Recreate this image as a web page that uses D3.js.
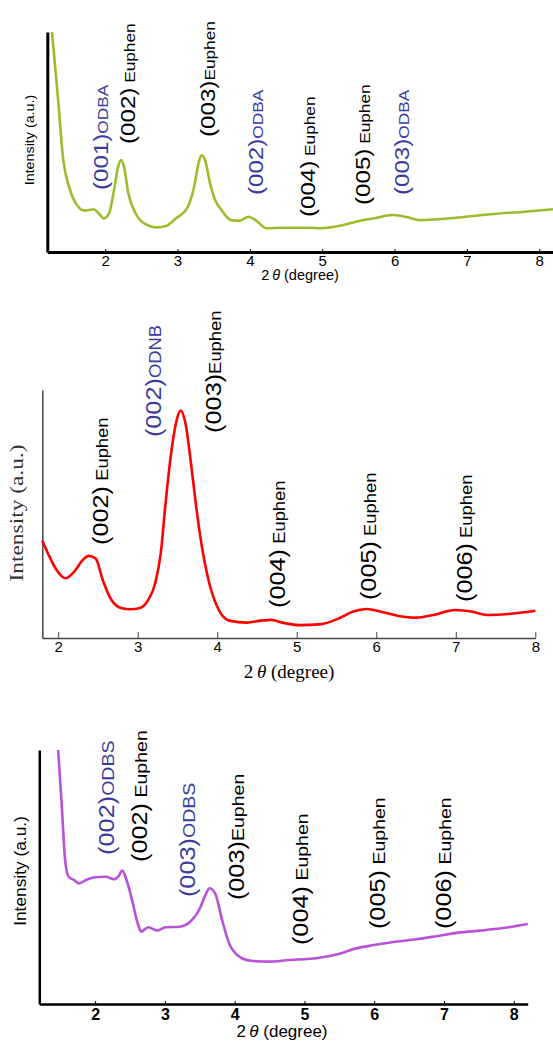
<!DOCTYPE html>
<html>
<head>
<meta charset="utf-8">
<script src="https://cdn.jsdelivr.net/npm/d3@7"></script>
<style>
  html, body { margin: 0; padding: 0; background: #fff; }
  svg { display: block; }
</style>
</head>
<body>
<script>
const W = 553;
const H = 1042;
const BLUE = "#3b3b9e";

// panel 1: ODBA (green)
const odbaX = [1.265, 1.35, 1.42, 1.50, 1.59, 1.715, 1.84, 1.91, 1.98, 2.055, 2.13, 2.18, 2.22, 2.26, 2.32, 2.42, 2.54, 2.71, 2.84, 2.98, 3.13, 3.23, 3.29, 3.33, 3.38, 3.45, 3.52, 3.61, 3.74, 3.86, 3.98, 4.08, 4.23, 4.45, 4.84, 4.98, 5.23, 5.52, 5.72, 5.96, 6.15, 6.35, 6.59, 6.98, 7.37, 7.76, 8.19];
const odbaI = [100, 69, 42, 29.7, 22.3, 18.8, 19.4, 17.6, 15.3, 17.7, 29.7, 38.8, 41.8, 38.8, 26.7, 17.6, 13, 11.2, 11.8, 15.3, 19.8, 29.7, 40.3, 44, 41.8, 31.2, 23.6, 19, 14.5, 14.2, 16, 14.5, 10.8, 11, 11, 10.8, 11.8, 14.2, 15.3, 16.8, 16, 14.5, 14.9, 16, 17.3, 18.2, 19.4];
const odbaPeaks = ["(001)", "(002)", "(003)", "(002)", "(004)", "(005)", "(003)"];
const odbaTags = ["ODBA", " Euphen", "Euphen", "ODBA", " Euphen", " Euphen", "ODBA"];
const odbaPeakX = [1.93, 2.31, 3.42, 4.08, 4.79, 5.56, 6.10];
const odbaPeakI = [28.2, 49.1, 52.3, 25.9, 15.9, 21.4, 25.9];
const odbaBlue = [true, false, false, true, false, false, true];

// panel 2: ODNB (red)
const odnbX = [1.80, 1.89, 1.98, 2.09, 2.20, 2.31, 2.38, 2.47, 2.56, 2.67, 2.80, 2.91, 3.02, 3.13, 3.22, 3.29, 3.35, 3.42, 3.49, 3.54, 3.60, 3.67, 3.73, 3.80, 3.89, 4.00, 4.15, 4.37, 4.55, 4.68, 4.82, 5.04, 5.31, 5.53, 5.70, 5.88, 6.06, 6.28, 6.50, 6.72, 6.99, 7.21, 7.39, 7.66, 8.00];
const odnbI = [39.2, 32.8, 27.4, 24.1, 26.7, 31.5, 33.1, 32.1, 23.4, 15.3, 12.0, 11.6, 12.0, 15.3, 22.1, 34.2, 54.3, 74.5, 87.9, 91.7, 86.6, 70.4, 54.3, 38.2, 23.4, 12.6, 7.0, 6.2, 7.0, 7.3, 6.2, 5.2, 5.6, 7.9, 10.6, 11.7, 10.6, 8.9, 8.2, 9.3, 11.3, 10.6, 9.3, 9.7, 11.0];
const odnbPeaks = ["(002)", "(002)", "(003)", "(004)", "(005)", "(006)"];
const odnbTags = [" Euphen", "ODNB", "Euphen", " Euphen", " Euphen", " Euphen"];
const odnbPeakX = [2.53, 3.19, 3.95, 4.75, 5.90, 7.10];
const odnbPeakI = [37.5, 81.0, 82.7, 12.1, 15.3, 14.5];
const odnbBlue = [false, true, false, false, false, false];

// panel 3: ODBS (purple)
const odbsX = [1.47, 1.52, 1.57, 1.62, 1.70, 1.77, 1.87, 2.00, 2.15, 2.28, 2.33, 2.39, 2.45, 2.53, 2.61, 2.66, 2.76, 2.89, 3.01, 3.21, 3.39, 3.49, 3.57, 3.64, 3.72, 3.82, 3.92, 4.07, 4.23, 4.48, 4.78, 5.19, 5.49, 5.74, 6.00, 6.30, 6.60, 6.91, 7.21, 7.52, 7.82, 8.20];
const odbsI = [100, 79.0, 56.7, 50.1, 48.8, 47.5, 48.8, 49.9, 50.1, 49.1, 50.1, 52.5, 48.8, 40.9, 31.8, 28.5, 30.2, 28.9, 30.2, 30.4, 33.1, 37.0, 42.2, 45.6, 43.6, 33.1, 23.9, 18.6, 17.0, 16.7, 17.3, 18.1, 19.7, 21.9, 23.2, 24.5, 25.5, 26.8, 28.1, 28.9, 29.8, 31.5];
const odbsPeaks = ["(002)", "(002)", "(003)", "(003)", "(004)", "(005)", "(006)"];
const odbsTags = ["ODBS", " Euphen", "ODBS", "Euphen", " Euphen", " Euphen", " Euphen"];
const odbsPeakX = [2.15, 2.63, 3.32, 4.02, 4.94, 6.04, 6.99];
const odbsPeakI = [58.7, 55.9, 42.1, 40.9, 23.2, 29.5, 29.5];
const odbsBlue = [true, false, true, false, false, false, false];

const tickVals = [2, 3, 4, 5, 6, 7, 8];

const svg = d3.select("body").append("svg")
    .attr("width", W)
    .attr("height", H);

drawPanel({
  xs: odbaX, ys: odbaI, color: "#9cbc2c",
  domain: [1.2, 8.19], left: 47.3, right: 553, top: 32, bottom: 252,
  axisWidth: 3, axisColor: "#000", tick: 3, tickFont: 15, tickPad: 3, tickWeight: "normal",
  font: "Liberation Sans, Arial, sans-serif",
  xlab: { x: 300, y: 275, size: 14.5 }, ylab: { x: 30, y: 140, size: 13, stretch: 1.1 },
  peaks: odbaPeaks, tags: odbaTags, px: odbaPeakX, pi: odbaPeakI, blue: odbaBlue,
  f1: 21, f2: 15, stretch: 1.15
});

drawPanel({
  xs: odnbX, ys: odnbI, color: "#ff0000",
  domain: [1.8, 8.0], left: 42.3, right: 535.3, top: 390, bottom: 638,
  axisWidth: 1.5, axisColor: "#444", tick: 6, tickFont: 15, tickPad: 3, tickWeight: "normal",
  font: "Liberation Sans, Arial, sans-serif",
  serif: "Liberation Serif, Times New Roman, serif",
  xlab: { x: 289, y: 671, size: 19 }, ylab: { x: 17, y: 513, size: 18, stretch: 1.3 },
  peaks: odnbPeaks, tags: odnbTags, px: odnbPeakX, pi: odnbPeakI, blue: odnbBlue,
  f1: 22, f2: 16, stretch: 1.15
});

drawPanel({
  xs: odbsX, ys: odbsI, color: "#b852d8",
  domain: [1.2, 8.2], left: 39.3, right: 527.7, top: 750, bottom: 1004,
  axisWidth: 2.5, axisColor: "#000", tick: 3, tickFont: 16, tickPad: 5, tickWeight: "bold",
  font: "Liberation Sans, Arial, sans-serif",
  xlab: { x: 282, y: 1031, size: 17 }, ylab: { x: 21, y: 871, size: 16.5, stretch: 1.05 },
  peaks: odbsPeaks, tags: odbsTags, px: odbsPeakX, pi: odbsPeakI, blue: odbsBlue,
  f1: 22, f2: 17, stretch: 1.15
});

function drawPanel (p) {
  const x = d3.scaleLinear().domain(p.domain).range([p.left, p.right]);
  const y = d3.scaleLinear().domain([0, 100]).range([p.bottom, p.top]);
  const g = svg.append("g");
  const labFont = p.serif || p.font;

  // x axis, ticks pointing inward
  const xa = g.append("g")
      .attr("transform", `translate(0,${p.bottom})`)
      .call(d3.axisBottom(x).tickValues(tickVals).tickFormat(d3.format("d"))
        .tickSizeInner(-p.tick).tickSizeOuter(0).tickPadding(p.tickPad));
  xa.select(".domain").attr("stroke", p.axisColor).attr("stroke-width", p.axisWidth);
  xa.selectAll(".tick line").attr("stroke", p.axisColor).attr("stroke-width", 1);
  xa.selectAll(".tick text")
      .attr("fill", "#000")
      .style("font-family", p.font)
      .style("font-size", p.tickFont + "px")
      .style("font-weight", p.tickWeight);

  // y axis: line only
  const ya = g.append("g")
      .attr("transform", `translate(${p.left},0)`)
      .call(d3.axisLeft(y).tickValues([]).tickSizeOuter(0));
  ya.select(".domain").attr("stroke", p.axisColor).attr("stroke-width", p.axisWidth);

  // curve
  const line = d3.line().x(d => x(d[0])).y(d => y(d[1])).curve(d3.curveMonotoneX);
  g.append("path")
      .datum(d3.zip(p.xs, p.ys))
      .attr("d", line)
      .attr("fill", "none")
      .attr("stroke", p.color)
      .attr("stroke-width", 2.6)
      .attr("stroke-linejoin", "round");

  // axis titles
  const xl = g.append("text")
      .attr("x", p.xlab.x).attr("y", p.xlab.y)
      .attr("text-anchor", "middle")
      .attr("dominant-baseline", "central")
      .style("font-family", labFont)
      .style("font-size", p.xlab.size + "px");
  xl.append("tspan").text("2");
  xl.append("tspan").attr("dx", "0.2em").style("font-style", "italic").text("θ");
  xl.append("tspan").text(" (degree)");

  g.append("text")
      .attr("transform", `translate(${p.ylab.x},${p.ylab.y}) rotate(-90) scale(${p.ylab.stretch},1)`)
      .attr("text-anchor", "middle")
      .attr("dominant-baseline", "central")
      .attr("fill", p.serif ? "#333" : "#000")
      .style("font-family", labFont)
      .style("font-size", p.ylab.size + "px")
      .text("Intensity (a.u.)");

  // peak labels, written bottom-to-top
  p.peaks.forEach((hkl, i) => {
    const cx = x(p.px[i]) + p.f1 * 0.36;
    const t = g.append("text")
        .attr("transform", `translate(${cx},${y(p.pi[i])}) rotate(-90) scale(${p.stretch},1)`)
        .attr("fill", p.blue[i] ? BLUE : "#000")
        .style("font-family", p.font);
    t.append("tspan").style("font-size", p.f1 + "px").text(hkl);
    t.append("tspan").style("font-size", p.f2 + "px").style("white-space", "pre").text(p.tags[i]);
  });
}
</script>
</body>
</html>
